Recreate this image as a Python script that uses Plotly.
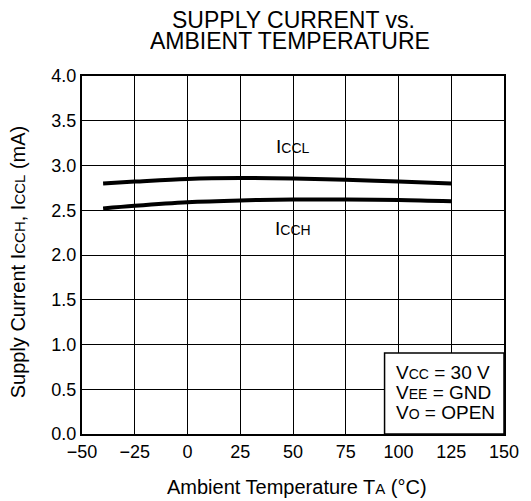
import plotly.graph_objects as go

temp = [-40, -25, 0, 25, 50, 75, 100, 125]
iccl = [2.80, 2.82, 2.85, 2.86, 2.855, 2.84, 2.82, 2.80]
icch = [2.52, 2.55, 2.59, 2.61, 2.62, 2.62, 2.615, 2.60]
x_ticks = [-50, -25, 0, 25, 50, 75, 100, 125, 150]
x_ticklabels = ["\u221250", "\u221225", "0", "25", "50", "75", "100", "125", "150"]
y_ticks = [0, 0.5, 1.0, 1.5, 2.0, 2.5, 3.0, 3.5, 4.0]
y_ticklabels = ["0.0", "0.5", "1.0", "1.5", "2.0", "2.5", "3.0", "3.5", "4.0"]
cond_lines = [("V", "CC", " = 30 V"), ("V", "EE", " = GND"), ("V", "O", " = OPEN")]
title_lines = ["SUPPLY CURRENT vs.", "AMBIENT TEMPERATURE"]

FONT = "Liberation Sans, Arial, sans-serif"
L, T, PW, PH = 82, 76, 424, 358


def px(x):
    return (x - L) / PW


def py(y):
    return (T + PH - y) / PH


def sub(s, size):
    return "<span style='font-size:%dpx'>%s</span>" % (size, s)


fig = go.Figure()
fig.add_trace(go.Scatter(x=temp, y=iccl, mode="lines", line=dict(color="black", width=4, shape="spline"), showlegend=False))
fig.add_trace(go.Scatter(x=temp, y=icch, mode="lines", line=dict(color="black", width=4, shape="spline"), showlegend=False))

fig.update_layout(
    width=531, height=501,
    margin=dict(l=L, r=531 - L - PW, t=T, b=501 - T - PH),
    paper_bgcolor="white", plot_bgcolor="white",
    font=dict(family=FONT, color="black", size=18),
    xaxis=dict(range=[-50, 150], tickvals=x_ticks, ticktext=x_ticklabels, showgrid=True,
               gridcolor="black", gridwidth=1.2, showline=True, linecolor="black", linewidth=2.2,
               mirror=True, ticks="", zeroline=False, tickfont=dict(size=18)),
    yaxis=dict(range=[0, 4], tickvals=y_ticks, ticktext=y_ticklabels, showgrid=True,
               gridcolor="black", gridwidth=1.2, showline=True, linecolor="black", linewidth=2.2,
               mirror=True, ticks="", zeroline=False, tickfont=dict(size=18)),
)

# title lines
for (txt, cx, cy) in [(title_lines[0], 295, 20), (title_lines[1], 291, 41)]:
    fig.add_annotation(xref="paper", yref="paper", x=px(cx), y=py(cy), xanchor="center", yanchor="middle",
                       text=txt, showarrow=False, height=20, valign="middle",
                       font=dict(size=23, family=FONT))
# axis titles
fig.add_annotation(xref="paper", yref="paper", x=px(298), y=py(487), xanchor="center", yanchor="middle",
                   text="Ambient Temperature T" + sub("A", 15) + " (\u00b0C)", showarrow=False,
                   font=dict(size=20, family=FONT))
fig.add_annotation(xref="paper", yref="paper", x=px(18), y=py(262), xanchor="center", yanchor="middle",
                   text="Supply Current I" + sub("CCH", 15) + ", I" + sub("CCL", 15) + " (mA)", textangle=-90,
                   showarrow=False, font=dict(size=20, family=FONT))

fig.add_shape(type="rect", xref="paper", yref="paper", x0=px(386), x1=1.0, y0=0.0, y1=py(353),
              fillcolor="white", line=dict(color="black", width=1.5), layer="above")
for i, (a, b, c) in enumerate(cond_lines):
    fig.add_annotation(xref="paper", yref="paper", x=px(395), y=py(372 + 20 * i), xanchor="left", yanchor="middle",
                       text=a + sub(b, 14) + c, showarrow=False, align="left", font=dict(size=19, family=FONT))
fig.add_annotation(x=50, y=3.21, text="I" + sub("CCL", 14), showarrow=False, font=dict(size=19, family=FONT))
fig.add_annotation(x=50, y=2.30, text="I" + sub("CCH", 14), showarrow=False, font=dict(size=19, family=FONT))

fig.write_html("out.html")
